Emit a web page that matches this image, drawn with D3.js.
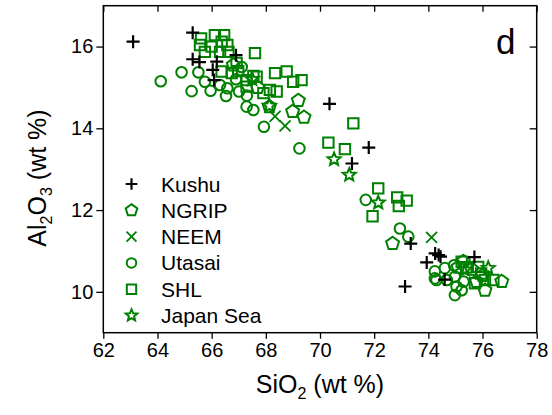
<!DOCTYPE html>
<html><head><meta charset="utf-8">
<script src="https://cdn.jsdelivr.net/npm/d3@7"></script>
<style>body{margin:0;background:#fff;} text{font-family:"Liberation Sans",Arial,sans-serif;}</style>
</head><body>
<svg id="chart" width="552" height="415"></svg>
<script>
// ---- data (SiO2, Al2O3) ----
const kushu = [[63.1,16.12],[65.3,16.34],[65.3,15.69],[65.55,15.62],[66.04,15.43],[66.09,15.18],[66.19,15.63],[66.9,15.79],[70.35,14.6],[71.8,13.53],[71.18,13.14],[73.35,11.18],[74.25,10.94],[74.38,10.9],[74.45,10.86],[73.94,10.72],[75.7,10.85],[73.14,10.13],[74.6,10.3]];
const ngrip = [[69.2,14.68],[68.99,14.41],[69.41,14.27],[68.13,14.53],[72.68,11.18],[76.71,10.25],[76.09,10.04],[75.78,10.25],[75.29,10.74],[75.1,10.6],[75.6,10.55],[76.0,10.4],[66.8,15.55],[67.7,15.0]];
const neem = [[68.34,14.29],[68.71,14.06],[74.12,11.33]];
const utasai = [[64.12,15.15],[64.89,15.37],[65.26,14.91],[65.51,15.37],[65.75,15.14],[65.96,14.92],[66.31,15.06],[66.53,14.79],[66.58,14.98],[67.11,15.5],[67.01,14.9],[67.29,14.53],[67.54,14.45],[67.93,14.04],[69.24,13.51],[66.9,15.2],[67.3,14.8],[71.69,12.25],[72.95,11.55],[73.26,11.35],[74.24,10.33],[74.24,10.5],[74.61,10.58],[74.3,10.29],[74.68,10.29],[74.98,10.37],[75.04,10.13],[74.98,9.92],[75.23,10.04],[74.95,10.65],[75.3,10.25]];
const shl = [[65.61,16.2],[65.57,16.04],[66.12,16.28],[66.46,16.28],[66.0,16.0],[66.37,16.12],[66.31,15.87],[66.62,15.87],[66.58,16.04],[65.75,15.87],[66.37,15.39],[66.74,15.35],[66.92,15.6],[67.6,15.84],[66.98,15.4],[67.29,15.18],[67.66,15.26],[67.29,15.02],[67.91,14.86],[68.15,14.94],[68.34,15.35],[68.77,15.39],[69.01,15.14],[69.32,15.18],[68.4,14.9],[67.54,15.28],[71.23,14.12],[70.31,13.65],[70.92,13.49],[72.15,12.53],[72.85,12.31],[73.2,12.23],[72.91,12.1],[71.94,11.85],[75.23,10.74],[75.84,10.61],[75.72,10.21],[76.09,10.29],[76.4,10.29],[75.95,10.45],[75.4,10.6]];
const japanSea = [[70.52,13.24],[71.08,12.86],[72.15,12.18],[68.13,14.55],[67.5,15.2],[75.35,10.54],[76.21,10.58]];
const xTicks = [62,64,66,68,70,72,74,76,78];
const yTicks = [10,12,14,16];
const seriesNames = ["Kushu","NGRIP","NEEM","Utasai","SHL","Japan Sea"];

const GREEN = "#008000";
const svg = d3.select("#chart");
const m = {l:103.3, t:5.7, r:536.7, b:332.7};
const x = d3.scaleLinear().domain([62,78]).range([m.l,m.r]);
const y = d3.scaleLinear().domain([9,17]).range([m.b,m.t]);

// symbol path generators
function sym(type, s){
  switch(type){
    case "plus": return `M${-s},0H${s}M0,${-s}V${s}`;
    case "x": return `M${-s},${-s}L${s},${s}M${-s},${s}L${s},${-s}`;
    case "circle": { const p=d3.path(); p.arc(0,0,s,0,2*Math.PI); return p.toString(); }
    case "square": return `M${-s},${-s}H${s}V${s}H${-s}Z`;
    case "pentagon": { let pts=[]; for(let i=0;i<5;i++){const a=-Math.PI/2+i*2*Math.PI/5; pts.push([s*Math.cos(a),s*Math.sin(a)]);} return "M"+pts.map(p=>p.join(",")).join("L")+"Z"; }
    case "star": { let pts=[]; for(let i=0;i<10;i++){const a=-Math.PI/2+i*Math.PI/5; const r=i%2?s*0.45:s; pts.push([r*Math.cos(a),r*Math.sin(a)]);} return "M"+pts.map(p=>p.join(",")).join("L")+"Z"; }
  }
}
const styles = {
  "Kushu":{type:"plus",size:6.5,color:"#000",sw:2.2,data:kushu},
  "NGRIP":{type:"pentagon",size:6.8,color:GREEN,sw:2,data:ngrip},
  "NEEM":{type:"x",size:5.5,color:GREEN,sw:1.8,data:neem},
  "Utasai":{type:"circle",size:5.3,color:GREEN,sw:2,data:utasai},
  "SHL":{type:"square",size:5.2,color:GREEN,sw:2,data:shl},
  "Japan Sea":{type:"star",size:6.8,color:GREEN,sw:2,data:japanSea}
};

// axes
const fs = 20;
const gx = svg.append("g").attr("transform",`translate(0,${m.b})`)
  .call(d3.axisBottom(x).tickValues(xTicks).tickSize(6).tickPadding(4).tickFormat(d3.format("d")));
const gy = svg.append("g").attr("transform",`translate(${m.l},0)`)
  .call(d3.axisLeft(y).tickValues(yTicks).tickSize(7).tickPadding(3).tickFormat(d3.format("d")));
const gxt = svg.append("g").attr("transform",`translate(0,${m.t})`)
  .call(d3.axisBottom(x).tickValues(xTicks).tickSize(6).tickFormat(""));
const gyr = svg.append("g").attr("transform",`translate(${m.r},0)`)
  .call(d3.axisLeft(y).tickValues(yTicks).tickSize(7).tickFormat(""));
[gx,gy,gxt,gyr].forEach(g=>{
  g.select(".domain").remove();
  g.selectAll("line").attr("stroke","#000").attr("stroke-width",1.3);
  g.selectAll("text").attr("font-size",fs).attr("fill","#000").attr("font-family","Liberation Sans, Arial, sans-serif");
});
svg.append("rect").attr("x",m.l).attr("y",m.t).attr("width",m.r-m.l).attr("height",m.b-m.t)
  .attr("fill","none").attr("stroke","#000").attr("stroke-width",1.5);

// points (draw order)
const order = ["Utasai","SHL","NGRIP","NEEM","Japan Sea","Kushu"];
order.forEach(name=>{
  const st = styles[name];
  svg.append("g").selectAll("path").data(st.data).join("path")
    .attr("transform",d=>`translate(${x(d[0])},${y(d[1])})`)
    .attr("d",sym(st.type,st.size))
    .attr("fill","none").attr("stroke",st.color).attr("stroke-width",st.sw);
});

// legend
const lg = svg.append("g");
const ly0 = 184, ldy = 26.3;
seriesNames.forEach((name,i)=>{
  const st = styles[name];
  lg.append("path").attr("transform",`translate(131.5,${ly0+i*ldy})`)
    .attr("d",sym(st.type,st.size*0.9)).attr("fill","none").attr("stroke",st.color).attr("stroke-width",st.sw);
  lg.append("text").attr("x",161).attr("y",ly0+i*ldy).attr("dy","0.36em").attr("font-size",21).text(name);
});

// panel label
svg.append("text").attr("x",496).attr("y",54).attr("font-size",35).text("d");

// axis titles
const xt = svg.append("text").attr("x",(m.l+m.r)/2).attr("y",393).attr("text-anchor","middle").attr("font-size",25);
xt.append("tspan").text("SiO");
xt.append("tspan").attr("font-size",16).attr("dy",6).text("2");
xt.append("tspan").attr("dy",-6).text(" (wt %)");
const yt = svg.append("text").attr("transform",`translate(46,178) rotate(-90)`).attr("text-anchor","middle").attr("font-size",25);
yt.append("tspan").text("Al");
yt.append("tspan").attr("font-size",16).attr("dy",6).text("2");
yt.append("tspan").attr("dy",-6).text("O");
yt.append("tspan").attr("font-size",16).attr("dy",6).text("3");
yt.append("tspan").attr("dy",-6).text(" (wt %)");
</script>
</body></html>
